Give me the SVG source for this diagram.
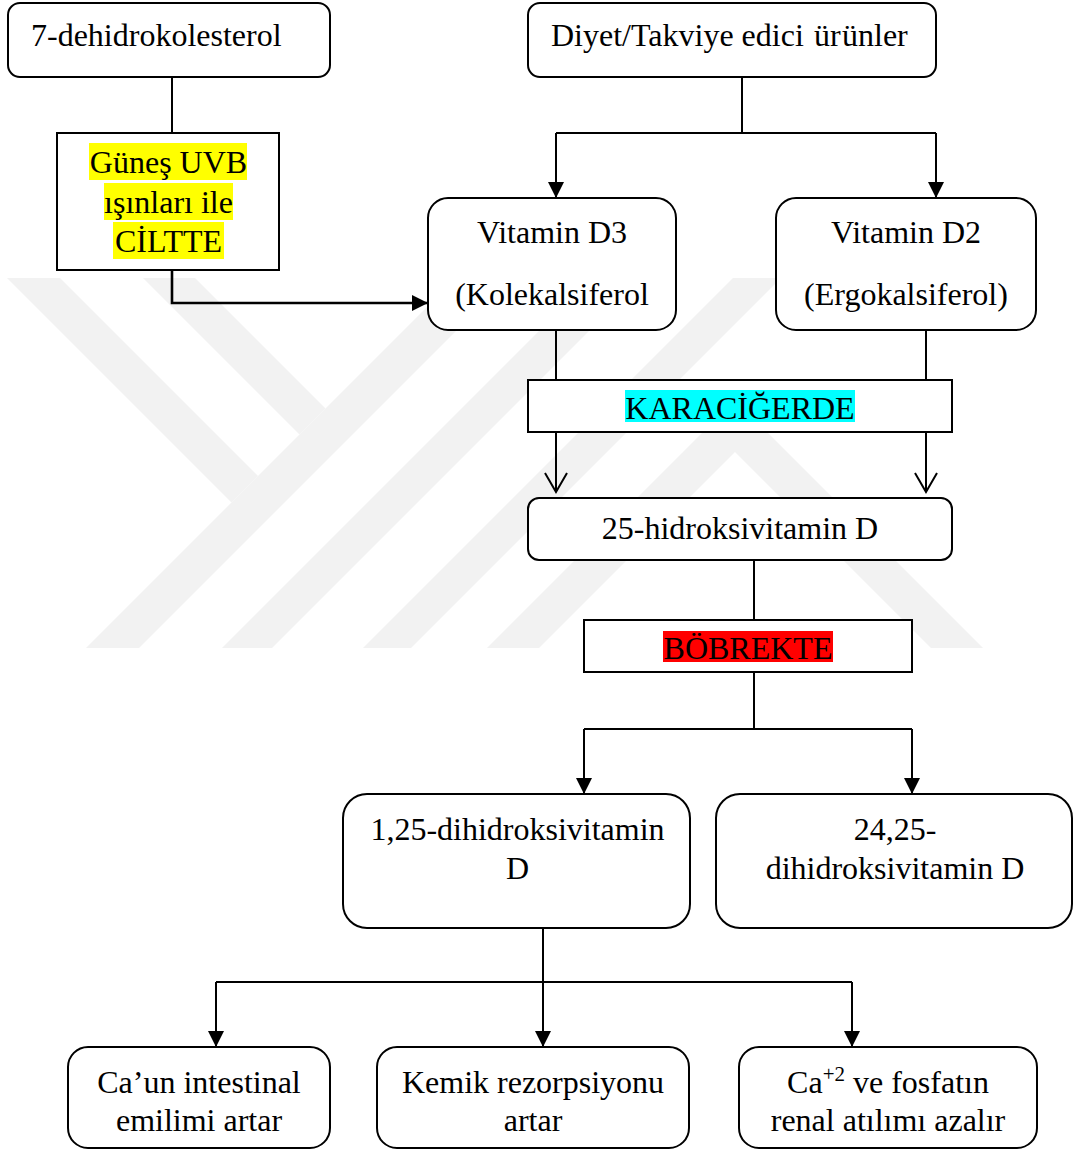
<svg xmlns="http://www.w3.org/2000/svg" width="1073" height="1151" viewBox="0 0 1073 1151">
<style>
.t{font-family:"Liberation Serif","Times New Roman",serif;font-size:32px;fill:#000}
.c{text-anchor:middle}
.box{fill:#fff;stroke:#000;stroke-width:2}
.ln{fill:none;stroke:#000;stroke-width:2}
.wm{fill:#f2f2f2}
</style>
<defs>
<marker id="arr" markerUnits="userSpaceOnUse" viewBox="0 0 16 16" markerWidth="16" markerHeight="16" refX="16" refY="8" orient="auto">
<path d="M0,0 L16,8 L0,16 Z" fill="#000"/>
</marker>
<marker id="open" markerUnits="userSpaceOnUse" viewBox="-2 -2 24 26" markerWidth="24" markerHeight="26" refX="19" refY="11" orient="auto">
<path d="M0,0 L19,11 L0,22" fill="none" stroke="#000" stroke-width="2"/>
</marker>
</defs>
<rect width="1073" height="1151" fill="#fff"/>
<g id="watermark">
<polygon class="wm" points="86,648 139,648 509,278 456,278"/>
<polygon class="wm" points="7,278 60,278 258,476 231.5,502.5"/>
<polygon class="wm" points="143,278 195,278 325.5,408.5 299.5,434.5"/>
<polygon class="wm" points="222,648 272,648 642,278 592,278"/>
<polygon class="wm" points="363,648 411,648 781,278 733,278"/>
<polygon class="wm" points="487,648 735,400 983,648 931,648 735,452 539,648"/>
</g>
<g id="connectors">
<path class="ln" d="M172,77 V133"/>
<path class="ln" style="stroke-width:2.6" d="M172,270 V303 H428" marker-end="url(#arr)"/>
<path class="ln" d="M742,77 V133 M556,133 H936"/>
<path class="ln" d="M556,133 V198" marker-end="url(#arr)"/>
<path class="ln" d="M936,133 V198" marker-end="url(#arr)"/>
<path class="ln" d="M556,330 V380 M926,330 V380"/>
<path class="ln" d="M556,432 V492" marker-end="url(#open)"/>
<path class="ln" d="M926,432 V492" marker-end="url(#open)"/>
<path class="ln" d="M754,560 V620"/>
<path class="ln" d="M754,672 V729 M584,729 H912"/>
<path class="ln" d="M584,729 V794" marker-end="url(#arr)"/>
<path class="ln" d="M912,729 V794" marker-end="url(#arr)"/>
<path class="ln" d="M216,982 H852"/>
<path class="ln" d="M543,928 V1047" marker-end="url(#arr)"/>
<path class="ln" d="M216,982 V1047" marker-end="url(#arr)"/>
<path class="ln" d="M852,982 V1047" marker-end="url(#arr)"/>
</g>
<g id="n-7dhc">
<rect class="box" x="8" y="3" width="322" height="74" rx="12"/>
<text class="t" x="31" y="46">7-dehidrokolesterol</text>
</g>
<g id="n-diyet">
<rect class="box" x="528" y="3" width="408" height="74" rx="12"/>
<text class="t" y="46"><tspan x="551">Diyet/Takviye edici</tspan><tspan x="814">ür</tspan><tspan x="842">ünler</tspan></text>
</g>
<g id="n-uvb">
<rect class="box" x="57" y="133" width="222" height="137"/>
<rect x="89" y="143" width="158" height="37" fill="#ffff00"/>
<rect x="104" y="183" width="129" height="37" fill="#ffff00"/>
<rect x="113" y="222" width="111" height="37" fill="#ffff00"/>
<text class="t c" x="168.5" y="173">Güneş UVB</text>
<text class="t c" x="168.5" y="213">ışınları ile</text>
<text class="t c" x="168.5" y="252">CİLTTE</text>
</g>
<g id="n-d3">
<rect class="box" x="428" y="198" width="248" height="132" rx="20"/>
<text class="t c" x="552" y="243">Vitamin D3</text>
<text class="t c" x="552" y="305">(Kolekalsiferol</text>
</g>
<g id="n-d2">
<rect class="box" x="776" y="198" width="260" height="132" rx="20"/>
<text class="t c" x="906" y="243">Vitamin D2</text>
<text class="t c" x="906" y="305">(Ergokalsiferol)</text>
</g>
<g id="n-karaciger">
<rect class="box" x="528" y="380" width="424" height="52"/>
<rect x="625" y="390" width="230" height="32" fill="#00ffff"/>
<text class="t c" x="740" y="419">KARACİĞERDE</text>
</g>
<g id="n-25oh">
<rect class="box" x="528" y="498" width="424" height="62" rx="11"/>
<text class="t c" x="740" y="539">25-hidroksivitamin D</text>
</g>
<g id="n-bobrek">
<rect class="box" x="584" y="620" width="328" height="52"/>
<rect x="663" y="631" width="170" height="31" fill="#ff0000"/>
<text class="t c" x="748" y="659">BÖBREKTE</text>
</g>
<g id="n-125">
<rect class="box" x="343" y="794" width="347" height="134" rx="24"/>
<text class="t c" x="517.5" y="840">1,25-dihidroksivitamin</text>
<text class="t c" x="517.5" y="879">D</text>
</g>
<g id="n-2425">
<rect class="box" x="716" y="794" width="356" height="134" rx="24"/>
<text class="t c" x="895" y="840">24,25-</text>
<text class="t c" x="895" y="879">dihidroksivitamin D</text>
</g>
<g id="n-ca">
<rect class="box" x="68" y="1047" width="262" height="101" rx="20"/>
<text class="t c" x="199" y="1093">Ca’un intestinal</text>
<text class="t c" x="199" y="1131">emilimi artar</text>
</g>
<g id="n-kemik">
<rect class="box" x="377" y="1047" width="312" height="101" rx="20"/>
<text class="t c" x="533" y="1093">Kemik rezorpsiyonu</text>
<text class="t c" x="533" y="1131">artar</text>
</g>
<g id="n-renal">
<rect class="box" x="739" y="1047" width="298" height="101" rx="20"/>
<text class="t c" x="888" y="1093">Ca<tspan dy="-12" style="font-size:21px">+2</tspan><tspan dy="12"> ve fosfatın</tspan></text>
<text class="t c" x="888" y="1131">renal atılımı azalır</text>
</g>
</svg>
